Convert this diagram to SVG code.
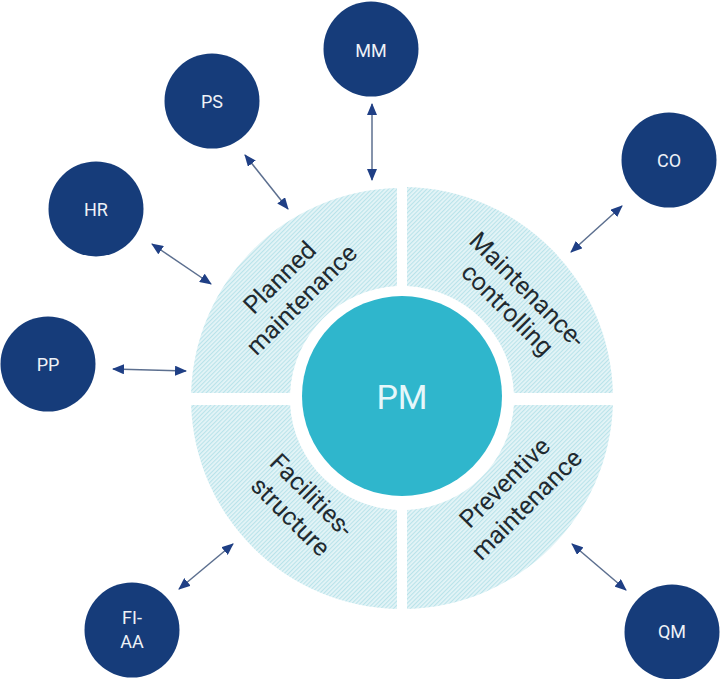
<svg xmlns="http://www.w3.org/2000/svg" width="720" height="679" viewBox="0 0 720 679">
<style>
.sat{fill:#163c7a}
.sl{font-family:"Roboto","Liberation Sans",sans-serif;font-size:18px;fill:#eef2f7;text-anchor:middle}
.ql{font-family:"Roboto","Liberation Sans",sans-serif;font-size:25px;fill:#1f2a30;text-anchor:middle}
.cn{stroke:#5c6f8f;stroke-width:1.5;fill:none;marker-start:url(#a);marker-end:url(#a)}
.q{fill:url(#h)}
</style>
<defs>
<pattern id="h" width="3" height="3" patternUnits="userSpaceOnUse" patternTransform="rotate(-45)">
<rect width="3" height="3" fill="#e4f4f7"/>
<rect width="3" height="1.1" fill="#b9e3ea"/>
</pattern>
<marker id="a" viewBox="0 0 12 10" refX="11" refY="5" markerWidth="12" markerHeight="10" markerUnits="userSpaceOnUse" orient="auto-start-reverse">
<path d="M0 0L12 5L0 10Z" fill="#1f3f85"/>
</marker>
</defs>
<rect width="720" height="679" fill="#fff"/>
<g id="quadrant-planned"><path class="q" d="M397 188.100A211 211 0 0 0 191.100 393L290.100 393A112 112 0 0 1 397 286.100Z"/>
<text class="ql" transform="translate(292 290) rotate(-45)"><tspan x="0" y="-9">Planned</tspan><tspan x="0" y="22">maintenance</tspan></text></g>
<g id="quadrant-controlling"><path class="q" d="M407 187.100A211 211 0 0 1 612.900 393L513.900 393A112 112 0 0 0 407 286.100Z"/>
<text class="ql" transform="translate(517 300) rotate(45)"><tspan x="0" y="-6">Maintenance-</tspan><tspan x="0" y="22">controlling</tspan></text></g>
<g id="quadrant-preventive"><path class="q" d="M407 609A211 211 0 0 0 612.900 405L513.900 405A112 112 0 0 1 407 510Z"/>
<text class="ql" transform="translate(517 495) rotate(-45)"><tspan x="0" y="-9">Preventive</tspan><tspan x="0" y="22">maintenance</tspan></text></g>
<g id="quadrant-facilities"><path class="q" d="M397 609A211 211 0 0 1 191.100 405L290.100 405A112 112 0 0 0 397 510Z"/>
<text class="ql" transform="translate(300 507) rotate(45)"><tspan x="0" y="-8">Facilities-</tspan><tspan x="0" y="22">structure</tspan></text></g>
<g id="pm"><circle cx="402" cy="396" r="100" fill="#2fb6cc"/>
<text x="402" y="409" font-family="Roboto,'Liberation Sans',sans-serif" font-size="34" fill="#e6f7fa" text-anchor="middle">PM</text></g>
<g id="connectors">
<path class="cn" d="M372 104L372 180"/>
<path class="cn" d="M245 155L288 209"/>
<path class="cn" d="M152 244L211 284"/>
<path class="cn" d="M113 369L186 371"/>
<path class="cn" d="M622 206L571 252"/>
<path class="cn" d="M233 544L179 589"/>
<path class="cn" d="M572 544L626 590"/>
</g>
<g id="mm"><circle class="sat" cx="371" cy="49" r="47.500"/><text class="sl" x="371" y="57">MM</text></g>
<g id="ps"><circle class="sat" cx="212" cy="101" r="47.500"/><text class="sl" x="212" y="108">PS</text></g>
<g id="hr"><circle class="sat" cx="96" cy="209" r="47.500"/><text class="sl" x="96" y="216">HR</text></g>
<g id="pp"><circle class="sat" cx="48" cy="364" r="47.500"/><text class="sl" x="48" y="371">PP</text></g>
<g id="co"><circle class="sat" cx="669" cy="160" r="47.500"/><text class="sl" x="669" y="167">CO</text></g>
<g id="fi-aa"><circle class="sat" cx="132" cy="630" r="47.500"/><text class="sl"><tspan x="132" y="624">FI-</tspan><tspan x="132" y="648">AA</tspan></text></g>
<g id="qm"><circle class="sat" cx="672" cy="632" r="47.500"/><text class="sl" x="672" y="638">QM</text></g>
</svg>
